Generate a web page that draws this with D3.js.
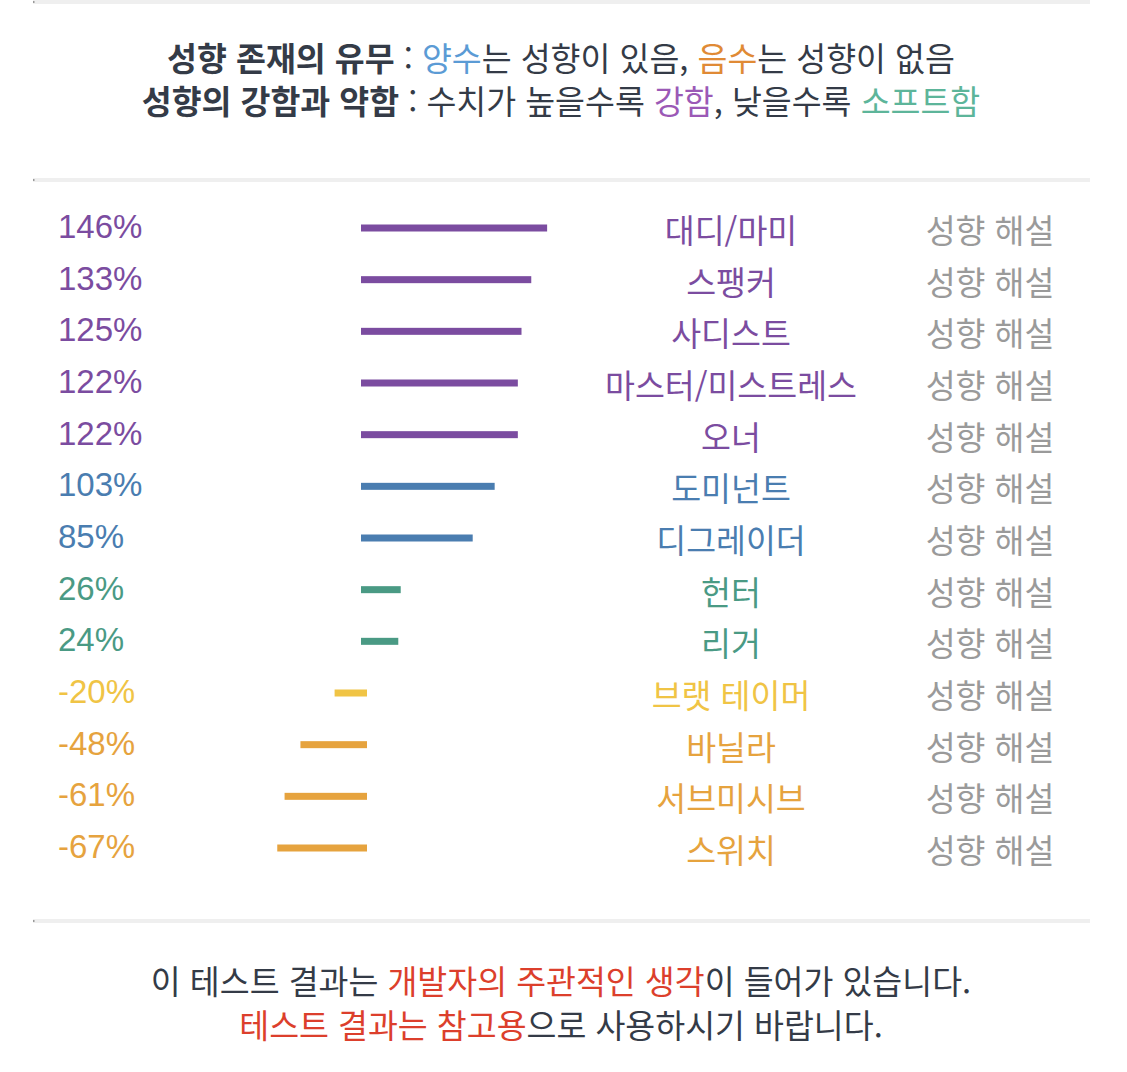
<!DOCTYPE html>
<html lang="ko">
<head>
    <meta charset="UTF-8">
    <title>성향 결과</title>
    <script src="https://d3js.org/d3.v7.min.js"></script>
    <style>
        html, body { margin: 0; padding: 0; background: #fff; }
        svg { display: block; }
    </style>
</head>
<body>
    <svg id="chart" width="1127" height="1072"></svg>
    <script>
        // data
        const categories = ['대디/마미', '스팽커', '사디스트', '마스터/미스트레스', '오너', '도미넌트',
            '디그레이더', '헌터', '리거', '브랫 테이머', '바닐라', '서브미시브', '스위치'];
        const values = [146, 133, 125, 122, 122, 103, 85, 26, 24, -20, -48, -61, -67];
        const groups = ['purple', 'purple', 'purple', 'purple', 'purple', 'blue',
            'blue', 'teal', 'teal', 'yellow', 'orange', 'orange', 'orange'];
        const linkLabel = '성향 해설';

        const color = d3.scaleOrdinal()
            .domain(['purple', 'blue', 'teal', 'yellow', 'orange'])
            .range(['#7b4ca0', '#4a7db0', '#4a9a84', '#f0c445', '#e6a33e']);

        const rows = categories.map((c, i) => ({name: c, value: values[i], group: groups[i]}));

        const svg = d3.select('#chart');
        const KR = "'Noto Sans CJK KR', 'Noto Sans', sans-serif";

        const y = d3.scalePoint()
            .domain(categories)
            .range([228, 848]);

        // bar length from |value|, bars have a small base length
        const len = d3.scaleLinear()
            .domain([0, 150])
            .range([8, 191]);
        const zeroPos = 361, zeroNeg = 367;

        // grey separators
        [2, 180, 921].forEach(yy => {
            svg.append('rect')
                .attr('x', 33).attr('y', yy - 2)
                .attr('width', 1057).attr('height', 4)
                .attr('fill', '#efefef');
            svg.append('rect')
                .attr('x', 33).attr('y', yy - 1)
                .attr('width', 1.5).attr('height', 2)
                .attr('fill', '#999');
        });

        // header
        const head = svg.append('g')
            .attr('font-family', KR)
            .attr('font-size', 32.5)
            .attr('text-anchor', 'middle')
            .attr('fill', '#343b47');

        const line1 = head.append('text').attr('x', 561).attr('y', 71);
        line1.append('tspan').attr('font-weight', 700).text('성향 존재의 유무');
        line1.append('tspan').text(' : ');
        line1.append('tspan').attr('fill', '#5b9bd5').text('양수');
        line1.append('tspan').text('는 성향이 있음, ');
        line1.append('tspan').attr('fill', '#e08a35').text('음수');
        line1.append('tspan').text('는 성향이 없음');

        const line2 = head.append('text').attr('x', 561).attr('y', 114);
        line2.append('tspan').attr('font-weight', 700).text('성향의 강함과 약함');
        line2.append('tspan').text(' : 수치가 높을수록 ');
        line2.append('tspan').attr('fill', '#9b59b6').text('강함');
        line2.append('tspan').text(', 낮을수록 ');
        line2.append('tspan').attr('fill', '#5db59a').text('소프트함');

        // rows
        const row = svg.append('g').selectAll('g.row')
            .data(rows)
            .join('g')
            .attr('class', 'row');

        row.append('text')
            .attr('x', 58)
            .attr('y', d => y(d.name) + 10)
            .attr('font-family', "'Liberation Sans', Arial, sans-serif")
            .attr('font-size', 33)
            .attr('fill', d => color(d.group))
            .text(d => d.value + '%');

        row.append('rect')
            .attr('x', d => d.value >= 0 ? zeroPos : zeroNeg - len(-d.value))
            .attr('y', d => y(d.name) - 3.5)
            .attr('width', d => len(Math.abs(d.value)))
            .attr('height', 7)
            .attr('fill', d => color(d.group));

        row.append('text')
            .attr('x', 731)
            .attr('y', d => y(d.name) + 15)
            .attr('text-anchor', 'middle')
            .attr('font-family', KR)
            .attr('font-size', 32.5)
            .attr('fill', d => color(d.group))
            .text(d => d.name);

        row.append('text')
            .attr('x', 990)
            .attr('y', d => y(d.name) + 15)
            .attr('text-anchor', 'middle')
            .attr('font-family', KR)
            .attr('font-size', 32.5)
            .attr('fill', '#9a9a9a')
            .text(linkLabel);

        // footer
        const foot = svg.append('g')
            .attr('font-family', KR)
            .attr('font-size', 32.5)
            .attr('text-anchor', 'middle')
            .attr('fill', '#343b47');

        const f1 = foot.append('text').attr('x', 561).attr('y', 994);
        f1.append('tspan').text('이 테스트 결과는 ');
        f1.append('tspan').attr('fill', '#dc3f2c').text('개발자의 주관적인 생각');
        f1.append('tspan').text('이 들어가 있습니다.');

        const f2 = foot.append('text').attr('x', 561).attr('y', 1038);
        f2.append('tspan').attr('fill', '#dc3f2c').text('테스트 결과는 참고용');
        f2.append('tspan').text('으로 사용하시기 바랍니다.');
    </script>
</body>
</html>
